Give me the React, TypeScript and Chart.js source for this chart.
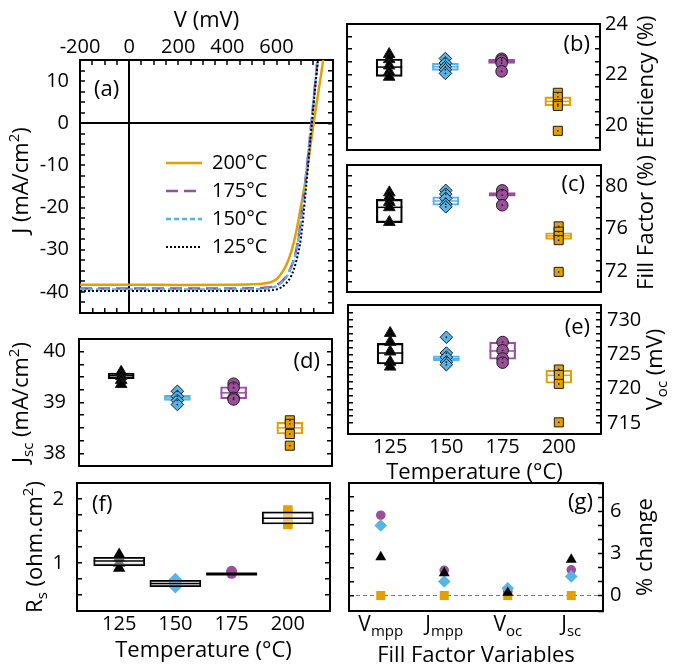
import { useEffect, useRef } from 'react';
import { Chart, registerables } from 'chart.js';

Chart.register(...registerables);

const W = 673;
const H = 671;
const FONT = '"Open Sans", "Noto Sans", "DejaVu Sans", sans-serif';
const TICK = 20;
const TITLE = 22;

const ORANGE = '#E69F00';
const BLUE = '#56B4E9';
const PURPLE = '#9A4E9B';
const BLACK = '#000000';
const EDGE = '#1c1c1c';
const CLEAR = 'rgba(0,0,0,0)';

Chart.defaults.font.family = FONT;
Chart.defaults.color = BLACK;

/* ---------------- data ---------------- */
const temperatures = ['125', '150', '175', '200'];
const legendLabels = ['200°C', '175°C', '150°C', '125°C'];

// (a) J–V curves (V in mV, J in mA/cm2)
const voltage = [-200, 0, 200, 400, 500, 550, 580, 600, 620, 640, 660, 680, 700, 720, 740, 760, 780, 800];
const jv200 = [-38.3, -38.3, -38.35, -38.3, -38.2, -38.0, -37.6, -37.0, -35.6, -33.6, -30.5, -25.8, -19.5, -13.0, -4.5, 3.5, 11.0, 19.0];
const jv175 = [-39.2, -39.2, -39.2, -39.2, -39.15, -39.0, -38.8, -38.4, -37.6, -36.3, -34.0, -30.2, -22.8, -12.5, -1.2, 10.8, 23.0, 35.0];
const jv150 = [-39.45, -39.45, -39.45, -39.45, -39.4, -39.25, -39.0, -38.6, -37.8, -36.5, -34.2, -30.5, -23.0, -12.5, -1.0, 11.0, 23.0, 35.0];
const jv125 = [-39.8, -39.8, -39.8, -39.8, -39.8, -39.75, -39.6, -39.4, -38.9, -37.9, -36.2, -32.8, -27.0, -15.5, -2.5, 10.0, 21.0, 32.0];

// (b) efficiency (%)
const eff125 = [22.8, 22.6, 22.35, 22.1, 21.9];
const eff150 = [22.63, 22.45, 22.3, 22.18, 22.04];
const eff175 = [22.62, 22.55, 22.45, 22.12];
const eff200 = [21.27, 21.11, 20.82, 20.75, 19.76];
const effQ1 = [21.92, 22.16, 22.44, 20.75];
const effMed = [22.29, 22.3, 22.52, 20.93];
const effQ3 = [22.61, 22.44, 22.6, 21.11];

// (c) fill factor (%)
const ff125 = [79.4, 79.0, 78.5, 78.0, 76.6];
const ff150 = [79.6, 79.25, 78.85, 78.3, 78.05];
const ff175 = [79.6, 79.15, 78.2];
const ff200 = [76.2, 75.7, 75.3, 74.9, 71.9];
const ffQ1 = [76.55, 78.2, 79.06, 74.98];
const ffMed = [78.0, 78.6, 79.25, 75.3];
const ffQ3 = [78.75, 79.0, 79.4, 75.6];

// (d) Jsc (mA/cm2)
const jsc125 = [39.6, 39.52, 39.44, 39.36];
const jsc150 = [39.22, 39.12, 39.04, 38.96];
const jsc175 = [39.37, 39.29, 39.09, 39.06];
const jsc200 = [38.65, 38.58, 38.38, 38.15];
const jscQ1 = [39.47, 39.04, 39.07, 38.38];
const jscMed = [39.53, 39.09, 39.19, 38.5];
const jscQ3 = [39.58, 39.14, 39.31, 38.61];

// (e) Voc (mV)
const voc125 = [728.1, 726.8, 725.4, 723.9, 723.2];
const voc150 = [727.5, 725.2, 724.6, 723.9, 723.5];
const voc175 = [726.8, 725.6, 724.4, 723.8];
const voc200 = [722.8, 722.0, 720.7, 715.1];
const vocQ1 = [723.6, 724.1, 724.3, 720.8];
const vocMed = [725.2, 724.4, 725.5, 721.95];
const vocQ3 = [726.6, 724.8, 726.8, 722.7];

// (f) Rs (ohm.cm2)
const rs125 = [1.13, 1.08, 1.0, 0.92];
const rs150 = [0.74, 0.69, 0.66, 0.63];
const rs175 = [0.87, 0.84];
const rs200 = [1.83, 1.79, 1.69, 1.63, 1.6];
const rsQ1 = [0.96, 0.63, 0.83, 1.61];
const rsMed = [1.03, 0.68, 0.83, 1.7];
const rsQ3 = [1.09, 0.73, 0.83, 1.8];

// (g) % change of fill factor variables
const ffVarNames = ['V', 'J', 'V', 'J'];
const ffVarSubs = ['mpp', 'mpp', 'oc', 'sc'];
const chg125 = [2.74, 1.6, 0.2, 2.55];
const chg150 = [4.98, 1.0, 0.52, 1.36];
const chg175 = [5.71, 1.79, 0.3, 1.83];
const chg200 = [0, 0, 0, 0];

/* ---------------- styles ---------------- */
const BOX_COLORS = [BLACK, BLUE, PURPLE, ORANGE];
type Mark = { style: string; r: number; fill: string; dot: boolean };
const MARK_BORDERED: Mark[] = [
  { style: 'triangle', r: 6.7, fill: BLACK, dot: false },
  { style: 'rectRot', r: 6.3, fill: BLUE, dot: true },
  { style: 'circle', r: 5.8, fill: PURPLE, dot: true },
  { style: 'rect', r: 6.4, fill: ORANGE, dot: true },
];
const MARK_F: Mark[] = [
  { style: 'triangle', r: 7.2, fill: BLACK, dot: false },
  { style: 'rectRot', r: 6.8, fill: BLUE, dot: false },
  { style: 'circle', r: 5.5, fill: PURPLE, dot: false },
  { style: 'rect', r: 6.6, fill: ORANGE, dot: false },
];
const MARK_G: Mark[] = [
  { style: 'triangle', r: 6.3, fill: BLACK, dot: false },
  { style: 'rectRot', r: 6.3, fill: BLUE, dot: false },
  { style: 'circle', r: 4.8, fill: PURPLE, dot: false },
  { style: 'rect', r: 6.4, fill: ORANGE, dot: false },
];

/* ---------------- helpers ---------------- */
type Seg = { t: string; sub?: boolean; sup?: boolean };

function rich(
  ctx: CanvasRenderingContext2D,
  segs: Seg[],
  x: number,
  y: number,
  size: number,
  rot = 0,
  align: 'left' | 'center' | 'right' = 'center',
) {
  const small = Math.round(size * 0.7);
  const fontOf = (s: Seg) => `${s.sub || s.sup ? small : size}px ${FONT}`;
  const widths = segs.map((s) => {
    ctx.font = fontOf(s);
    return ctx.measureText(s.t).width;
  });
  const total = widths.reduce((p, c) => p + c, 0);
  ctx.save();
  ctx.translate(x, y);
  ctx.rotate(rot);
  ctx.fillStyle = BLACK;
  ctx.textBaseline = 'middle';
  ctx.textAlign = 'left';
  let cx = align === 'center' ? -total / 2 : align === 'right' ? -total : 0;
  segs.forEach((s, i) => {
    ctx.font = fontOf(s);
    const dy = s.sub ? size * 0.3 : s.sup ? -size * 0.32 : 0;
    ctx.fillText(s.t, cx, dy);
    cx += widths[i];
  });
  ctx.restore();
}

function isMult(v: number, m: number) {
  const r = v / m;
  return Math.abs(r - Math.round(r)) < 1e-6;
}

interface AxisSpec {
  position: 'left' | 'right' | 'top' | 'bottom';
  min: number;
  max: number;
  step: number;
  major: number;
  labels?: boolean;
  pad?: number;
  size?: number;
  ticks?: boolean;
  fmt?: (v: number) => string;
  zero?: string;
  zeroDash?: number[];
  zeroWidth?: number;
}

// scale boxes get a fixed size so the plot area lands exactly where wanted
function axis(s: AxisSpec): any {
  const horizontal = s.position === 'top' || s.position === 'bottom';
  const drawTicks = s.ticks !== false;
  const size = s.size ?? 0;
  return {
    type: 'linear',
    axis: horizontal ? 'x' : 'y',
    position: s.position,
    min: s.min,
    max: s.max,
    __size: size,
    afterFit: (sc: any) => {
      if (horizontal) sc.height = size;
      else sc.width = size;
    },
    border: { display: true, color: BLACK, width: 2, dash: s.zeroDash || [] },
    grid: {
      display: true,
      drawOnChartArea: !!s.zero,
      drawTicks,
      tickLength: drawTicks ? -5 : 0,
      tickWidth: 1.5,
      tickColor: BLACK,
      lineWidth: s.zeroWidth || 1.5,
      color: (c: any) => (s.zero && c.tick && Math.abs(c.tick.value) < 1e-9 ? s.zero : CLEAR),
    },
    ticks: {
      display: !!s.labels,
      stepSize: s.step,
      autoSkip: false,
      maxRotation: 0,
      minRotation: 0,
      padding: s.pad ?? 0,
      color: BLACK,
      font: { family: FONT, size: TICK },
      callback: (v: number) =>
        isMult(v, s.major) ? (s.fmt ? s.fmt(v) : String(Math.round(v * 1000) / 1000)) : '',
    },
  };
}

function baseOptions(area: number[], scales: any): any {
  const [L, T, R, B] = area;
  const used: Record<string, number> = { left: 0, right: 0, top: 0, bottom: 0 };
  Object.values(scales).forEach((s: any) => {
    used[s.position] += s.__size || 0;
  });
  return {
    responsive: false,
    maintainAspectRatio: false,
    animation: false,
    devicePixelRatio: 1,
    events: [],
    layout: {
      padding: {
        left: L - used.left,
        top: T - used.top,
        right: W - R - used.right,
        bottom: H - B - used.bottom,
      },
      autoPadding: false,
    },
    plugins: { legend: { display: false }, tooltip: { enabled: false }, title: { display: false } },
    scales,
  };
}

function decor(draw: (ctx: CanvasRenderingContext2D, a: any, chart: any) => void) {
  return {
    id: 'decor',
    afterDraw(chart: any) {
      const ctx = chart.ctx as CanvasRenderingContext2D;
      ctx.save();
      draw(ctx, chart.chartArea, chart);
      ctx.restore();
    },
  };
}

const catX = (position: 'top' | 'bottom', labels: boolean) =>
  axis({
    position,
    min: -0.5,
    max: 3.5,
    step: 0.5,
    major: 1,
    labels,
    pad: 1,
    size: labels ? 28 : 0,
    ticks: false,
    fmt: (v) => temperatures[Math.round(v)] ?? '',
  });

interface BoxSpec {
  area: number[];
  groups: number[][];
  q1: number[];
  med: number[];
  q3: number[];
  y: { min: number; max: number; step: number; major: number };
  side: 'left' | 'right';
  pad: number;
  xLabels: boolean;
  markers: Mark[];
  bordered: boolean;
  boxWidth: number;
  boxOnTop: boolean;
  boxFill: string;
  boxColors: string[];
  medWidths: number[];
  draw: (ctx: CanvasRenderingContext2D, a: any, chart: any) => void;
}

function boxPanel(o: BoxSpec) {
  const datasets: any[] = [];
  datasets.push({
    type: 'bar',
    data: o.q1.map((q, i) => ({ x: i, y: [q, o.q3[i]] })),
    backgroundColor: o.boxFill,
    borderColor: o.boxColors,
    borderWidth: 1.5,
    borderSkipped: false,
    barThickness: o.boxWidth,
    order: o.boxOnTop ? 20 : 200,
  });
  datasets.push({
    type: 'scatter',
    data: o.med.map((m, i) => ({ x: i, y: m })),
    pointStyle: 'line',
    pointRadius: o.boxWidth / 2,
    pointBorderWidth: o.medWidths,
    pointBorderColor: o.boxColors,
    borderColor: o.boxColors,
    order: o.boxOnTop ? 10 : 190,
  });
  o.groups.forEach((vals, i) => {
    const m = o.markers[i];
    const pts = vals.map((v) => ({ x: i, y: v }));
    datasets.push({
      type: 'scatter',
      data: pts,
      pointStyle: m.style,
      pointRadius: m.r,
      pointBackgroundColor: m.fill,
      backgroundColor: m.fill,
      pointBorderColor: o.bordered ? EDGE : m.fill,
      borderColor: o.bordered ? EDGE : m.fill,
      pointBorderWidth: o.bordered ? 1 : 0,
      order: 100 - i,
    });
    if (o.bordered && m.dot) {
      datasets.push({
        type: 'scatter',
        data: pts,
        pointStyle: 'circle',
        pointRadius: 0.9,
        pointBackgroundColor: '#222',
        pointBorderWidth: 0,
        order: 50,
      });
    }
  });
  const scales = {
    x: catX('bottom', o.xLabels),
    x2: catX('top', false),
    y: axis({ position: o.side, ...o.y, labels: true, pad: o.pad, size: 58 }),
    y2: axis({ position: o.side === 'left' ? 'right' : 'left', ...o.y, labels: false }),
  };
  return {
    type: 'scatter',
    data: { datasets },
    options: baseOptions(o.area, scales),
    plugins: [decor(o.draw)],
  };
}

const rot = -Math.PI / 2;
const midY = (a: any) => (a.top + a.bottom) / 2;
const midX = (a: any) => (a.left + a.right) / 2;

/* ---------------- panels ---------------- */
function panelA() {
  const series = [
    { label: legendLabels[0], data: jv200, color: ORANGE, dash: [] as number[], width: 2.5, order: 4 },
    { label: legendLabels[1], data: jv175, color: PURPLE, dash: [12, 6], width: 2.5, order: 3 },
    { label: legendLabels[2], data: jv150, color: BLUE, dash: [5, 3], width: 2.5, order: 2 },
    { label: legendLabels[3], data: jv125, color: BLACK, dash: [2, 2], width: 2, order: 1 },
  ];
  const datasets = series.map((s) => ({
    type: 'line',
    label: s.label,
    data: voltage.map((v, i) => ({ x: v, y: s.data[i] })),
    borderColor: s.color,
    borderDash: s.dash,
    borderWidth: s.width,
    pointRadius: 0,
    showLine: true,
    fill: false,
    cubicInterpolationMode: 'monotone',
    clip: 0,
    order: s.order,
  }));
  const xs = { min: -200, max: 830, step: 50, major: 200 };
  const ys = { min: -45, max: 15, step: 2.5, major: 10 };
  const scales = {
    x: axis({
      position: 'top',
      ...xs,
      labels: true,
      pad: 6,
      size: 36,
      fmt: (v) => (v <= 600 ? String(v) : ''),
      zero: BLACK,
      zeroWidth: 2,
    }),
    x2: axis({ position: 'bottom', ...xs, labels: false }),
    y: axis({ position: 'left', ...ys, labels: true, pad: 16, size: 70, zero: BLACK, zeroWidth: 2 }),
    y2: axis({ position: 'right', ...ys, labels: false }),
  };
  return {
    type: 'scatter',
    data: { datasets },
    options: baseOptions([80, 60, 333, 313], scales),
    plugins: [
      decor((ctx, a, chart) => {
        rich(ctx, [{ t: 'V (mV)' }], midX(a), a.top - 39, TITLE);
        rich(ctx, [{ t: 'J (mA/cm' }, { t: '2', sup: true }, { t: ')' }], a.left - 58, midY(a) - 6, TITLE, rot);
        rich(ctx, [{ t: '(a)' }], a.left + 14, a.top + 30, 22, 0, 'left');
        chart.data.datasets.forEach((ds: any, k: number) => {
          const y = a.top + 103 + k * 28;
          ctx.save();
          ctx.strokeStyle = ds.borderColor;
          ctx.lineWidth = ds.borderWidth;
          ctx.setLineDash(ds.borderDash);
          ctx.beginPath();
          ctx.moveTo(a.left + 86, y);
          ctx.lineTo(a.left + 122, y);
          ctx.stroke();
          ctx.restore();
          rich(ctx, [{ t: ds.label }], a.left + 132, y, 20, 0, 'left');
        });
      }),
    ],
  };
}

const borderedDefaults = {
  markers: MARK_BORDERED,
  bordered: true,
  boxWidth: 26,
  boxOnTop: false,
  boxFill: CLEAR,
  boxColors: BOX_COLORS,
  medWidths: [1.5, 1.5, 1.5, 1.5],
};

function panelB() {
  return boxPanel({
    ...borderedDefaults,
    area: [347, 24, 600, 150],
    groups: [eff125, eff150, eff175, eff200],
    q1: effQ1,
    med: effMed,
    q3: effQ3,
    y: { min: 19, max: 24, step: 0.5, major: 2 },
    side: 'right',
    pad: 10,
    xLabels: false,
    draw: (ctx, a) => {
      rich(ctx, [{ t: '(b)' }], a.right - 10, a.top + 21, 22, 0, 'right');
      rich(ctx, [{ t: 'Efficiency (%)' }], a.right + 47, midY(a) - 5, TITLE, rot);
    },
  });
}

function panelC() {
  return boxPanel({
    ...borderedDefaults,
    area: [347, 165, 601, 292],
    groups: [ff125, ff150, ff175, ff200],
    q1: ffQ1,
    med: ffMed,
    q3: ffQ3,
    y: { min: 70, max: 82, step: 1, major: 4 },
    side: 'right',
    pad: 9,
    xLabels: false,
    draw: (ctx, a) => {
      rich(ctx, [{ t: '(c)' }], a.right - 16, a.top + 20, 22, 0, 'right');
      rich(ctx, [{ t: 'Fill Factor (%)' }], a.right + 46, midY(a) - 6, TITLE, rot);
    },
  });
}

function panelD() {
  return boxPanel({
    ...borderedDefaults,
    area: [79, 339, 332, 466],
    groups: [jsc125, jsc150, jsc175, jsc200],
    q1: jscQ1,
    med: jscMed,
    q3: jscQ3,
    y: { min: 37.75, max: 40.25, step: 0.25, major: 1 },
    side: 'left',
    pad: 18,
    xLabels: false,
    draw: (ctx, a) => {
      rich(ctx, [{ t: '(d)' }], a.right - 12, a.top + 23, 22, 0, 'right');
      rich(
        ctx,
        [{ t: 'J' }, { t: 'sc', sub: true }, { t: ' (mA/cm' }, { t: '2', sup: true }, { t: ')' }],
        a.left - 57,
        midY(a),
        TITLE,
        rot,
      );
    },
  });
}

function panelE() {
  return boxPanel({
    ...borderedDefaults,
    area: [348, 305, 601, 434],
    groups: [voc125, voc150, voc175, voc200],
    q1: vocQ1,
    med: vocMed,
    q3: vocQ3,
    y: { min: 713.4, max: 732.2, step: 1, major: 5 },
    side: 'right',
    pad: 11,
    xLabels: true,
    draw: (ctx, a) => {
      rich(ctx, [{ t: '(e)' }], a.right - 11, a.top + 23, 22, 0, 'right');
      rich(ctx, [{ t: 'V' }, { t: 'oc', sub: true }, { t: ' (mV)' }], a.right + 55, midY(a), TITLE, rot);
      rich(ctx, [{ t: 'Temperature (°C)' }], midX(a), a.bottom + 39, TITLE);
    },
  });
}

function panelF() {
  return boxPanel({
    area: [77, 483, 330, 611],
    groups: [rs125, rs150, rs175, rs200],
    q1: rsQ1,
    med: rsMed,
    q3: rsQ3,
    y: { min: 0.25, max: 2.25, step: 0.25, major: 1 },
    side: 'left',
    pad: 18,
    xLabels: true,
    markers: MARK_F,
    bordered: false,
    boxWidth: 51,
    boxOnTop: true,
    boxFill: 'rgba(255,255,255,0.45)',
    boxColors: [BLACK, BLACK, BLACK, BLACK],
    medWidths: [1.5, 1.5, 3, 1.5],
    draw: (ctx, a) => {
      rich(ctx, [{ t: '(f)' }], a.left + 15, a.top + 22, 22, 0, 'left');
      rich(
        ctx,
        [{ t: 'R' }, { t: 's', sub: true }, { t: ' (ohm.cm' }, { t: '2', sup: true }, { t: ')' }],
        a.left - 41,
        midY(a),
        TITLE,
        rot,
      );
      rich(ctx, [{ t: 'Temperature (°C)' }], midX(a), a.bottom + 40, TITLE);
    },
  });
}

function panelG() {
  const groups = [chg125, chg150, chg175, chg200];
  const datasets = groups.map((vals, i) => ({
    type: 'scatter',
    data: vals.map((v, j) => ({ x: j, y: v })),
    pointStyle: MARK_G[i].style,
    pointRadius: MARK_G[i].r,
    pointBackgroundColor: MARK_G[i].fill,
    backgroundColor: MARK_G[i].fill,
    pointBorderWidth: 0,
    order: i + 1,
  }));
  const ys = { min: -1.1, max: 8, step: 1, major: 3 };
  const scales = {
    x: catX('bottom', false),
    x2: catX('top', false),
    y: axis({
      position: 'right',
      ...ys,
      labels: true,
      pad: 12,
      size: 58,
      zero: '#7a7a7a',
      zeroDash: [4, 3],
      zeroWidth: 1,
    }),
    y2: axis({ position: 'left', ...ys, labels: false }),
  };
  return {
    type: 'scatter',
    data: { datasets },
    options: baseOptions([349, 483, 603, 611], scales),
    plugins: [
      decor((ctx, a, chart) => {
        rich(ctx, [{ t: '(g)' }], a.right - 10, a.top + 20, 22, 0, 'right');
        rich(ctx, [{ t: '% change' }], a.right + 43, midY(a), TITLE, rot);
        const xs = chart.scales.x;
        ffVarNames.forEach((n, j) => {
          rich(ctx, [{ t: n }, { t: ffVarSubs[j], sub: true }], xs.getPixelForValue(j), a.bottom + 14, 21);
        });
        rich(ctx, [{ t: 'Fill Factor Variables' }], midX(a), a.bottom + 45, TITLE);
      }),
    ],
  };
}

const PANELS = [panelA, panelB, panelC, panelD, panelE, panelF, panelG];

function ChartCanvas({ build }: { build: () => any }) {
  const ref = useRef<HTMLCanvasElement | null>(null);
  useEffect(() => {
    if (!ref.current) return;
    const chart = new Chart(ref.current, build());
    return () => chart.destroy();
  }, [build]);
  return <canvas ref={ref} width={W} height={H} style={{ position: 'absolute', left: 0, top: 0 }} />;
}

export default function App() {
  return (
    <div
      style={{
        position: 'fixed',
        left: 0,
        top: 0,
        width: W,
        height: H,
        background: '#ffffff',
        overflow: 'hidden',
      }}
    >
      {PANELS.map((b, i) => (
        <ChartCanvas key={i} build={b} />
      ))}
    </div>
  );
}
